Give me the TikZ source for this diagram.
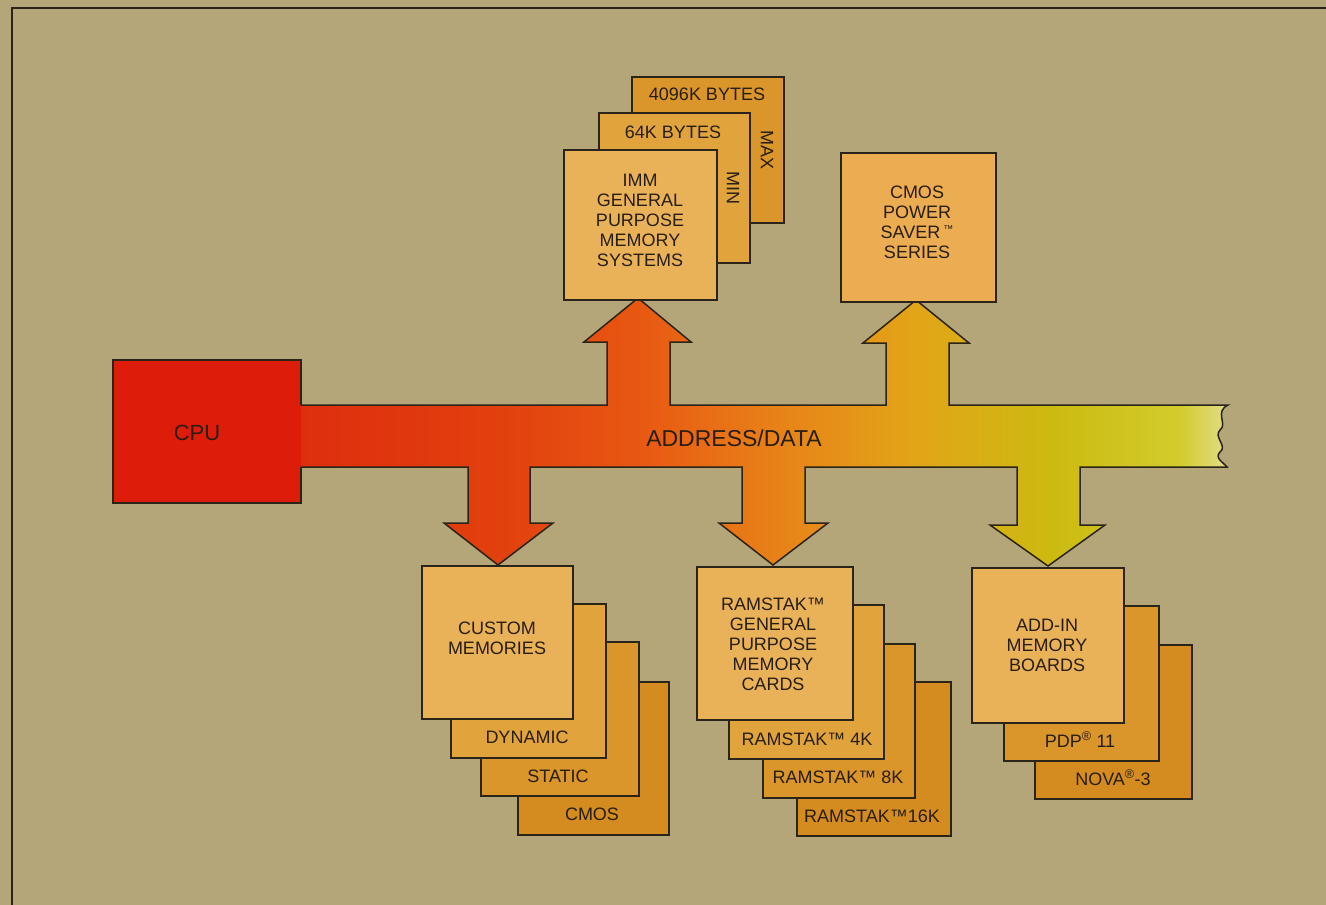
\documentclass[tikz,border=0pt]{standalone}
\usepackage{fontspec}
\setmainfont{Liberation Sans}
\definecolor{bg}{RGB}{181,166,122}
\definecolor{ink}{RGB}{40,30,20}
\definecolor{edge}{RGB}{43,36,24}
\definecolor{cpured}{RGB}{222,28,10}
\definecolor{fA}{RGB}{233,178,88}
\definecolor{fB}{RGB}{225,164,60}
\definecolor{fC}{RGB}{218,150,42}
\definecolor{fD}{RGB}{212,140,32}
\definecolor{fCmos}{RGB}{236,172,82}
\definecolor{b0}{RGB}{222,46,14}
\definecolor{b1}{RGB}{226,64,14}
\definecolor{b2}{RGB}{232,88,18}
\definecolor{b3}{RGB}{232,128,24}
\definecolor{b4}{RGB}{226,165,24}
\definecolor{b5}{RGB}{204,186,16}
\definecolor{b6}{RGB}{210,204,44}
\definecolor{b7}{RGB}{226,220,140}
\pgfdeclarehorizontalshading{busgrad}{100bp}{color(0bp)=(b0); color(25bp)=(b0); color(35.7bp)=(b1); color(43.3bp)=(b2); color(50.3bp)=(b3); color(58.2bp)=(b4); color(65.4bp)=(b5); color(72.4bp)=(b6); color(75bp)=(b7); color(100bp)=(b7)}
\newcommand\busoutline{(301,405) -- (607,405) -- (607,342) -- (584,342) -- (638,298) -- (691,342) -- (670,342) -- (670,405) -- (886,405) -- (886,343) -- (863,343) -- (916,300) -- (969,343) -- (949,343) -- (949,405) -- (1228,405) .. controls (1214,412) and (1228,424) .. (1220,430) .. controls (1213,437) and (1228,446) .. (1220,452) .. controls (1214,458) and (1224,463) .. (1227,467) -- (1080,467) -- (1080,525) -- (1105,525) -- (1048,566) -- (990,525) -- (1017,525) -- (1017,467) -- (805,467) -- (805,523) -- (828,523) -- (773,565) -- (719,523) -- (742,523) -- (742,467) -- (530,467) -- (530,523) -- (553,523) -- (498,565) -- (444,523) -- (468,523) -- (468,467) -- (301,467)}
\tikzset{
  box/.style={draw=edge, line width=1.5pt, anchor=north west, inner sep=0pt, minimum width=#1},
  lbl/.style={text=ink, font=\fontsize{18}{20}\selectfont, align=center, inner sep=0pt},
  baselbl/.style={lbl, anchor=base},
  frameline/.style={draw=edge, line width=1.2pt},
  outl/.style={draw=edge, line width=1.5pt, line join=miter}
}
\begin{document}
\begin{tikzpicture}[x=1pt,y=-1pt]
\fill[bg] (0,0) rectangle (1326,905);
\useasboundingbox (0,0) rectangle (1326,905);
\draw[frameline] (12,905) -- (12,8) -- (1326,8);
% bus
\shade[shading=busgrad] \busoutline -- cycle;
\draw[outl] \busoutline;
% CPU
\fill[cpured] (113,360) rectangle (301,503);
\draw[outl] (301,405) -- (301,360) -- (113,360) -- (113,503) -- (301,503) -- (301,467);
\node[lbl, font=\fontsize{22}{24}\selectfont] (cpu) at (197,433) {CPU};
\node[lbl, font=\fontsize{23}{25}\selectfont] (addr) at (734,438) {ADDRESS/DATA};
% top stack
\node[box=152pt, minimum height=146pt, fill=fC] (max) at (631,76) {};
\node[baselbl] (maxt) at (707,100) {4096K BYTES};
\node[lbl, rotate=-90] (maxl) at (767,150) {MAX};
\node[box=151pt, minimum height=150pt, fill=fB] (min) at (598,112) {};
\node[baselbl] (mint) at (673,138) {64K BYTES};
\node[lbl, rotate=-90] (minl) at (733,188) {MIN};
\node[box=153pt, minimum height=150pt, fill=fA] (imm) at (563,149) {};
\node[lbl] (immt) at (640,220) {IMM\\GENERAL\\PURPOSE\\MEMORY\\SYSTEMS};
% CMOS power saver
\node[box=155pt, minimum height=149pt, fill=fCmos] (cps) at (840,152) {};
\node[lbl] (cpst) at (917,222) {CMOS\\POWER\\SAVER\,{\fontsize{10}{10}\selectfont\raisebox{6pt}{™}}\\SERIES};
% custom memories stack
\node[box=151pt, minimum height=153pt, fill=fD] (cmos) at (517,681) {};
\node[baselbl] (cmost) at (592,820) {CMOS};
\node[box=158pt, minimum height=154pt, fill=fC] (static) at (480,641) {};
\node[baselbl] (statict) at (558,782) {STATIC};
\node[box=155pt, minimum height=154pt, fill=fB] (dyn) at (450,603) {};
\node[baselbl] (dynt) at (527,743) {DYNAMIC};
\node[box=151pt, minimum height=153pt, fill=fA] (custom) at (421,565) {};
\node[lbl] (customt) at (497,638) {CUSTOM\\MEMORIES};
% ramstak stack
\node[box=154pt, minimum height=154pt, fill=fD] (r16) at (796,681) {};
\node[baselbl] (r16t) at (872,822) {RAMSTAK™16K};
\node[box=152pt, minimum height=154pt, fill=fC] (r8) at (762,643) {};
\node[baselbl] (r8t) at (838,783) {RAMSTAK™ 8K};
\node[box=155pt, minimum height=154pt, fill=fB] (r4) at (728,604) {};
\node[baselbl] (r4t) at (807,745) {RAMSTAK™ 4K};
\node[box=156pt, minimum height=153pt, fill=fA] (ram) at (696,566) {};
\node[lbl] (ramt) at (773,644) {RAMSTAK™\\GENERAL\\PURPOSE\\MEMORY\\CARDS};
% add-in stack
\node[box=157pt, minimum height=154pt, fill=fD] (nova) at (1034,644) {};
\node[baselbl] (novat) at (1113,785) {NOVA\textsuperscript{®}-3};
\node[box=155pt, minimum height=155pt, fill=fC] (pdp) at (1003,605) {};
\node[baselbl] (pdpt) at (1080,747) {PDP\textsuperscript{®} 11};
\node[box=152pt, minimum height=155pt, fill=fA] (addin) at (971,567) {};
\node[lbl] (addint) at (1047,645) {ADD-IN\\MEMORY\\BOARDS};
\end{tikzpicture}
\end{document}
